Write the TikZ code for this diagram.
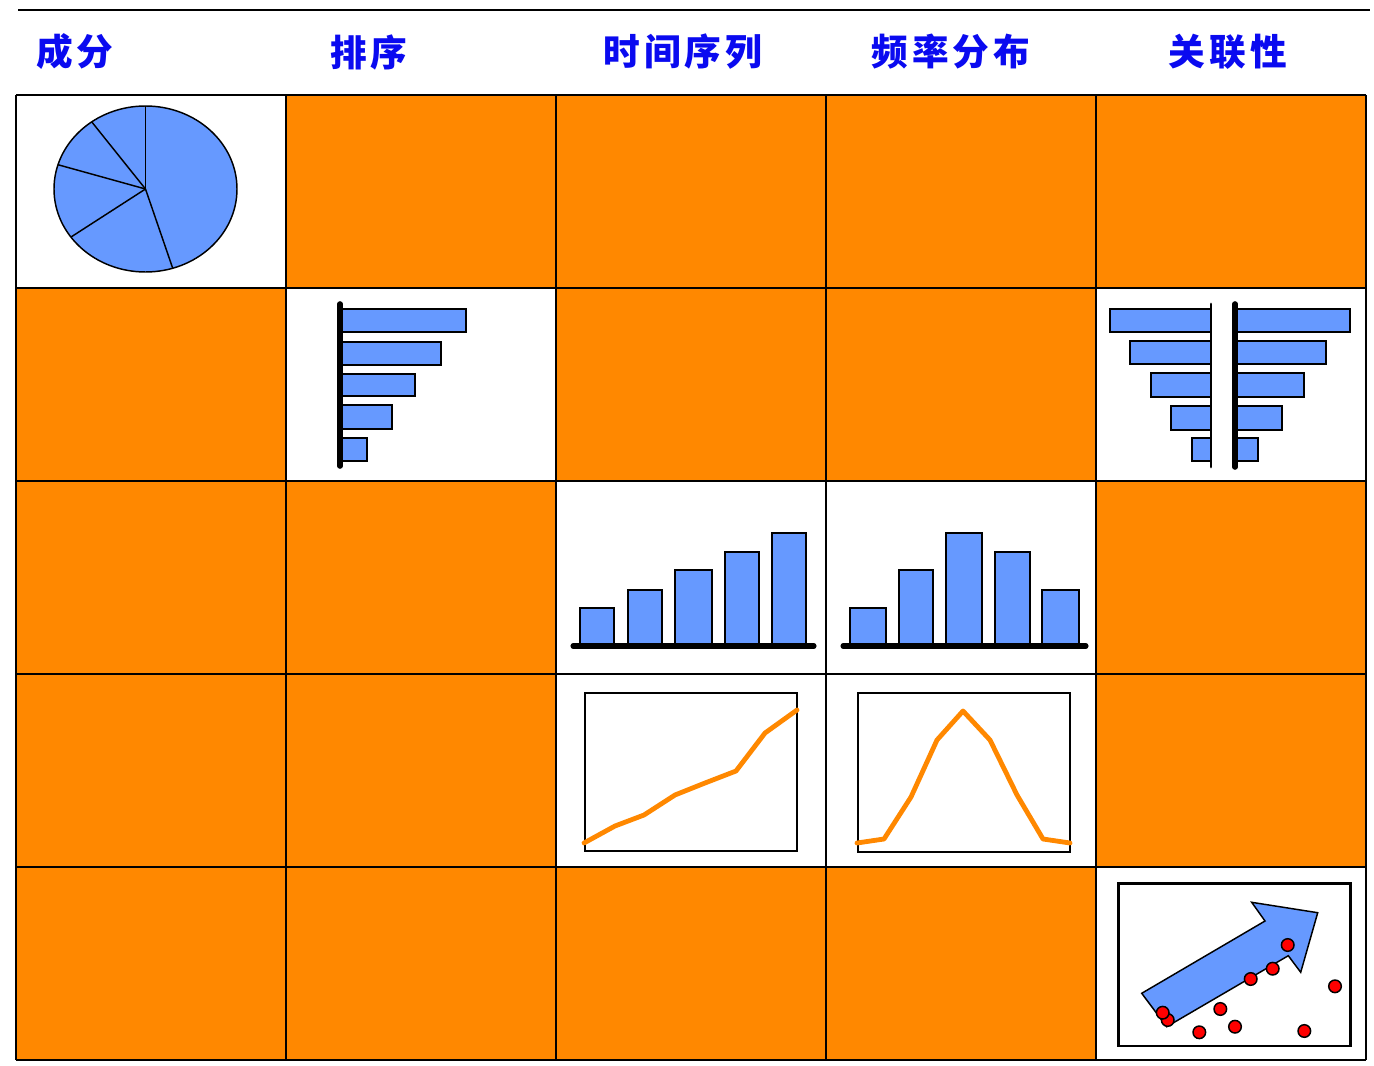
\documentclass[tikz,border=0pt]{standalone}
\usepackage{fontspec}
\newfontfamily\cjk{Noto Sans CJK SC}[LetterSpace=11]
\definecolor{cellorange}{RGB}{255,136,0}
\definecolor{barblue}{RGB}{102,153,255}
\definecolor{headblue}{RGB}{10,10,240}
\definecolor{dotred}{RGB}{255,0,0}
\begin{document}
\begin{tikzpicture}[x=0.75pt,y=-0.75pt,
  head/.style={font=\cjk\bfseries\fontsize{27.5}{30}\selectfont, text=headblue, anchor=center, inner sep=0pt},
  gridline/.style={draw=black, line width=1.7pt},
  bar/.style={draw=black, fill=barblue, line width=1.1pt},
  axisthick/.style={line width=4.2pt, line cap=round},
  axisthin/.style={line width=2.2pt, line cap=round},
  trend/.style={draw=cellorange, line width=3.6pt, line join=round, line cap=round},
  framebox/.style={draw=black, line width=1.3pt},
  dot/.style={draw=black, fill=dotred, line width=1.1pt}
]
\useasboundingbox (0,0) rectangle (1374,1066);
\fill[white] (0,0) rectangle (1374,1066);

% top rule
\coordinate (ruleL) at (18,10);
\coordinate (ruleR) at (1370,10);
\draw[line width=1.6pt] (ruleL) -- (ruleR);

% headers
\node[head] (h1) at (75,52) {成分};
\node[head] (h2) at (369,52) {排序};
\node[head] (h3) at (683,52) {时间序列};
\node[head] (h4) at (951,52) {频率分布};
\node[head] (h5) at (1228,52) {关联性};

% grid cells
\def\xs{{16,286,556,826,1096,1366}}
\def\ys{{95,288,481,674,867,1060}}
\foreach \r in {0,...,4}{
  \foreach \c in {0,...,4}{
    \pgfmathsetmacro\xa{\xs[\c]}
    \pgfmathsetmacro\xb{\xs[\c+1]}
    \pgfmathsetmacro\ya{\ys[\r]}
    \pgfmathsetmacro\yb{\ys[\r+1]}
    \fill[cellorange] (\xa,\ya) rectangle (\xb,\yb);
  }
}
% white cells
\foreach \r/\c in {0/0,1/1,1/4,2/2,2/3,3/2,3/3,4/4}{
    \pgfmathsetmacro\xa{\xs[\c]}
    \pgfmathsetmacro\xb{\xs[\c+1]}
    \pgfmathsetmacro\ya{\ys[\r]}
    \pgfmathsetmacro\yb{\ys[\r+1]}
    \fill[white] (\xa,\ya) rectangle (\xb,\yb);
}
% grid lines
\foreach \x in {16,286,556,826,1096,1366}{ \draw[gridline] (\x,95) -- (\x,1060); }
\foreach \y in {95,288,481,674,867,1060}{ \draw[gridline] (16,\y) -- (1366,\y); }

% ---- pie chart
\coordinate (pc) at (145.5,189);
\draw[fill=barblue, line width=1.1pt] (pc) ellipse [x radius=91.5, y radius=83];
\foreach \t in {90,-72.7,215.4,163,126}{
  \draw[line width=1.1pt] (pc) -- ({145.5+91.5*cos(\t)},{189-83*sin(\t)});
}

% ---- ranking bars
\draw[bar] (342,309) rectangle (466,332);
\draw[bar] (342,342) rectangle (441,365);
\draw[bar] (342,374) rectangle (415,396);
\draw[bar] (342,405) rectangle (392,429);
\draw[bar] (342,438) rectangle (367,461);
\coordinate (raT) at (340,304);
\coordinate (raB) at (340,466);
\draw[axisthick] (raT) -- (raB);

% ---- correlation (tornado) bars
\draw[bar] (1110,309) rectangle (1211,332);
\draw[bar] (1130,341) rectangle (1211,364);
\draw[bar] (1151,373) rectangle (1211,397);
\draw[bar] (1171,406) rectangle (1211,430);
\draw[bar] (1192,438) rectangle (1211,461);
\draw[bar] (1236,309) rectangle (1350,332);
\draw[bar] (1236,341) rectangle (1326,364);
\draw[bar] (1236,373) rectangle (1304,397);
\draw[bar] (1236,406) rectangle (1282,430);
\draw[bar] (1236,438) rectangle (1258,461);
\coordinate (caT) at (1211,304);
\coordinate (caB) at (1211,467);
\coordinate (cbT) at (1235,304);
\coordinate (cbB) at (1235,467);
\draw[axisthin] (caT) -- (caB);
\draw[axisthick] (cbT) -- (cbB);

% ---- time series columns
\draw[bar] (580,608) rectangle (614,646);
\draw[bar] (628,590) rectangle (662,646);
\draw[bar] (675,570) rectangle (712,646);
\draw[bar] (725,552) rectangle (759,646);
\draw[bar] (772,533) rectangle (806,646);
\coordinate (tbL) at (573,646);
\coordinate (tbR) at (814,646);
\draw[line width=3.8pt, line cap=round] (tbL) -- (tbR);

% ---- frequency columns
\draw[bar] (850,608) rectangle (886,646);
\draw[bar] (899,570) rectangle (933,646);
\draw[bar] (946,533) rectangle (982,646);
\draw[bar] (995,552) rectangle (1030,646);
\draw[bar] (1042,590) rectangle (1079,646);
\coordinate (fbL) at (843,646);
\coordinate (fbR) at (1086,646);
\draw[line width=3.8pt, line cap=round] (fbL) -- (fbR);

% ---- time series line
\draw[framebox] (585,693) rectangle (797,851);
\draw[trend] (584,843) -- (615,826) -- (644,815) -- (675,795) -- (705,783) -- (736,771) -- (765,733) -- (797,710);

% ---- frequency line
\draw[framebox] (858,693) rectangle (1070,852);
\draw[trend] (857,843) -- (884,839) -- (911,797) -- (937,740) -- (963,711) -- (990,740) -- (1017,795) -- (1043,839) -- (1070,843);

% ---- scatter with arrow
\draw[line width=1.8pt] (1118.5,883.5) rectangle (1350.5,1046);
\draw[bar, line join=miter] (1141.7,993.3) -- (1265,921) -- (1251.7,902.3) -- (1317.7,912.7) -- (1300.7,972.3) -- (1288.3,955.7) -- (1166.7,1026.7) -- cycle;
\foreach \px/\py in {1287.7/945, 1272.7/968.7, 1250.7/979, 1335/986.3, 1220.3/1009, 1167.7/1020, 1162.7/1012.7, 1235/1026.7, 1199.3/1032.3, 1304.3/1031}{
  \draw[dot] (\px,\py) circle [radius=6.3];
}
\end{tikzpicture}
\end{document}
